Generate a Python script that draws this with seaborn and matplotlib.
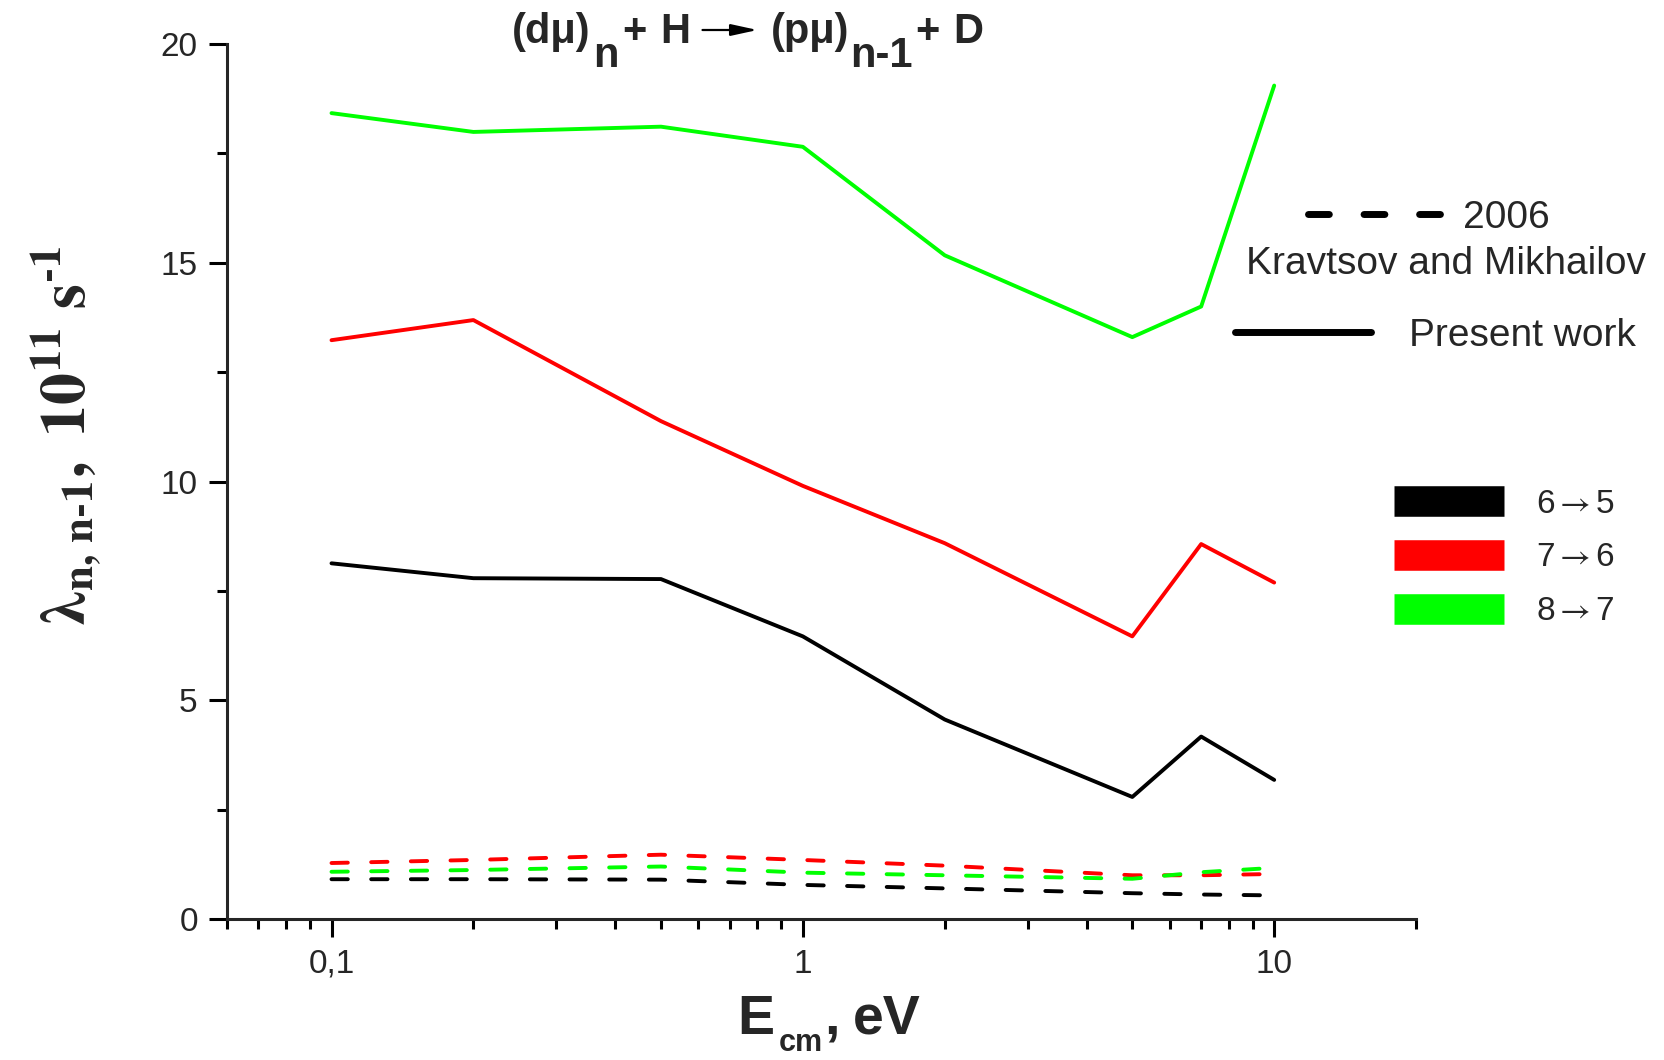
import numpy as np
import pandas as pd
import matplotlib
matplotlib.use("Agg")
import matplotlib.pyplot as plt
import seaborn as sns
from matplotlib.lines import Line2D
from matplotlib.patches import FancyArrowPatch
from matplotlib.ticker import LogLocator, MultipleLocator, NullFormatter

# ---------------- data ----------------
energy = [0.1, 0.2, 0.5, 1, 2, 5, 7, 10]
transitions = ["6→5", "7→6", "8→7"]
present_65 = [8.13, 7.79, 7.77, 6.46, 4.56, 2.79, 4.17, 3.18]
present_76 = [13.23, 13.69, 11.38, 9.90, 8.59, 6.46, 8.57, 7.69]
present_87 = [18.42, 17.99, 18.11, 17.65, 15.17, 13.30, 14.00, 19.05]
km2006_65 = [0.91, 0.91, 0.90, 0.78, 0.70, 0.59, 0.56, 0.54]
km2006_76 = [1.28, 1.35, 1.47, 1.35, 1.22, 1.00, 1.00, 1.03]
km2006_87 = [1.08, 1.12, 1.20, 1.06, 1.00, 0.92, 1.07, 1.17]
xtick_values = [0.1, 1, 10]
xtick_labels = ["0,1", "1", "10"]
legend_labels = [r"6$\rightarrow$5", r"7$\rightarrow$6", r"8$\rightarrow$7"]
colors = {"6→5": "#000000", "7→6": "#ff0000", "8→7": "#00ff00"}

rows = []
for trans, pw, km in zip(transitions, [present_65, present_76, present_87],
                         [km2006_65, km2006_76, km2006_87]):
    for e, a, b in zip(energy, pw, km):
        rows.append(dict(E=e, rate=a, transition=trans, source="Present work"))
        rows.append(dict(E=e, rate=b, transition=trans, source="2006"))
df = pd.DataFrame(rows)

# ---------------- style ----------------
sns.set_style("ticks")
plt.rcParams["font.family"] = ["Liberation Sans", "DejaVu Sans"]
plt.rcParams["mathtext.fontset"] = "custom"
plt.rcParams["mathtext.rm"] = "Liberation Sans"
plt.rcParams["mathtext.bf"] = "Liberation Sans:bold"
plt.rcParams["mathtext.it"] = "Liberation Sans:italic"
plt.rcParams["axes.linewidth"] = 2.2

W, H = 1665, 1060
fig = plt.figure(figsize=(W / 100, H / 100), dpi=100)
ax = fig.add_axes([0.1363, 0.133, 0.8505 - 0.1363, 0.9585 - 0.133])

sns.lineplot(data=df, x="E", y="rate", hue="transition", style="source",
             palette=colors, hue_order=transitions,
             dashes={"Present work": "", "2006": (4.2, 6)},
             linewidth=2.8, legend=False, ax=ax, estimator=None,
             dash_capstyle="round")

ax.set_xscale("log")
ax.set_xlim(0.06, 20)
ax.set_ylim(0, 20)
sns.despine(ax=ax)

ax.set_xticks(xtick_values)
ax.set_xticklabels(xtick_labels)
ax.xaxis.set_minor_locator(LogLocator(base=10, subs=np.arange(2, 10), numticks=30))
ax.xaxis.set_minor_formatter(NullFormatter())
ax.yaxis.set_major_locator(MultipleLocator(5))
ax.yaxis.set_minor_locator(MultipleLocator(2.5))
ax.tick_params(axis="both", which="major", length=13, width=2.2,
               direction="out", color="black")
ax.tick_params(axis="x", which="major", pad=8.5, labelsize=24)
ax.tick_params(axis="y", which="major", pad=8, labelsize=24)
ax.tick_params(axis="both", which="minor", length=7, width=2.2,
               direction="out", color="black")
ax.set_xlabel("")
ax.set_ylabel("")

renderer = fig.canvas.get_renderer()


def sequence(pieces, x0, base):
    """Lay out bold text pieces left to right; each piece is
    (text, fontsize, baseline shift in px, gap before in px)."""
    x = x0
    for txt, size, dy, gap in pieces:
        x += gap
        if txt == "ARROW":
            fig.add_artist(FancyArrowPatch(
                (x / W, 1 - (base - 13) / H), ((x + size) / W, 1 - (base - 13) / H),
                transform=fig.transFigure,
                arrowstyle="-|>,head_length=16,head_width=3.5",
                mutation_scale=1, lw=1.6, color="black",
                shrinkA=0, shrinkB=0))
            x += size
            continue
        t = fig.text(x / W, 1 - (base + dy) / H, txt, ha="left",
                     va="baseline", fontsize=size, fontweight="bold")
        x = t.get_window_extent(renderer).x1
    return x


# ---------------- title ----------------
sequence([("(dμ)", 30, 0, 0), ("n", 30, 24, 3), ("+", 30, 0, 3),
          ("H", 30, 0, 14), ("ARROW", 55, 0, 12), ("(pμ)", 30, 0, 13),
          ("n-1", 30, 24, 1), ("+", 30, 0, 3), ("D", 30, 0, 13)],
         512, 43)

# ---------------- x label ----------------
sequence([("E", 40, 0, 0), ("cm", 22, 17, 5), (",", 40, 0, 1),
          ("eV", 40, 0, 13)], 737, 1034)

# ---------------- y label ----------------
fig.text(66 / W, 1 - 436 / H,
         r"$\mathbf{\lambda_{n,\,n‐1},\ 10^{11}\ s^{‐1}}$",
         ha="center", va="center", rotation=90, fontsize=46,
         math_fontfamily="stix")

# ---------------- legends ----------------
fs_src = 28
legA = fig.legend(handles=[Line2D([], [], color="black", lw=5, dashes=(3, 5),
                                  dash_capstyle="round")],
                  labels=["2006"], loc="center left",
                  bbox_to_anchor=(1308 / W, 1 - 218 / H),
                  frameon=False, borderpad=0, borderaxespad=0,
                  handlelength=3.5, handletextpad=0.49, fontsize=fs_src)
fig.text(1446 / W, 1 - 264 / H, "Kravtsov and Mikhailov",
         ha="center", va="center", fontsize=fs_src)
legB = fig.legend(handles=[Line2D([], [], color="black", lw=5,
                                  solid_capstyle="round")],
                  labels=["Present work"], loc="center left",
                  bbox_to_anchor=(1235 / W, 1 - 336 / H),
                  frameon=False, borderpad=0, borderaxespad=0,
                  handlelength=3.5, handletextpad=0.98, fontsize=fs_src)
legC = fig.legend(handles=[Line2D([], [], color=colors[t], lw=22,
                                  solid_capstyle="butt") for t in transitions],
                  labels=legend_labels, loc="center left",
                  bbox_to_anchor=(1394 / W, 1 - 558 / H),
                  frameon=False, borderpad=0, borderaxespad=0,
                  handlelength=3.3, handletextpad=0.95, labelspacing=0.68,
                  fontsize=24)
for t in legC.get_texts():
    t.set_math_fontfamily("stix")

fig.savefig("out.png", dpi=100)
